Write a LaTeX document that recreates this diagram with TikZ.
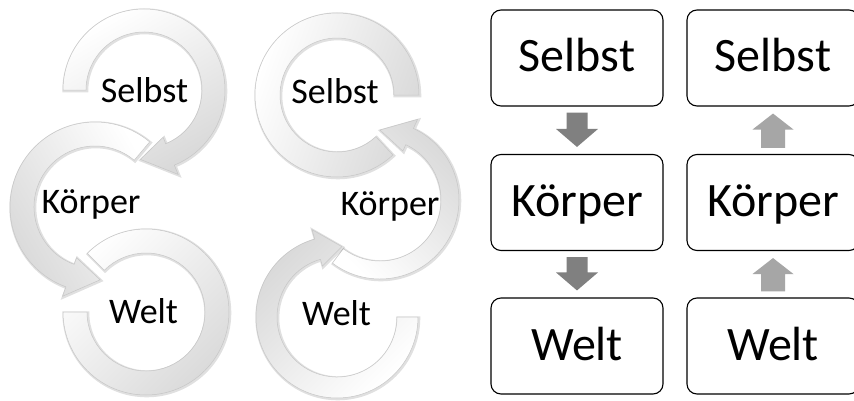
\documentclass[tikz,border=0pt]{standalone}
\usepackage{fontspec}
\setmainfont{Carlito}
\usetikzlibrary{calc}
\tikzset{
  ringfill/.style={preaction={draw=black,opacity=0.12,line width=3pt,transform canvas={xshift=0.8pt,yshift=-0.8pt}},
    top color=white,middle color=white,bottom color=gray!30,draw=gray!45,line width=0.5pt},
  ringtext/.style={anchor=base,font=\fontsize{36}{40}\selectfont,inner sep=0pt},
  stepbox/.style={draw=black,line width=1.1pt,rounded corners=10pt,fill=white,minimum width=172pt,minimum height=96pt,
    inner sep=0pt,text height=28pt,text depth=0pt,font=\fontsize{48}{52}\selectfont},
  darr/.style={fill=black!50},
  uarr/.style={fill=black!35},
}
% cx cy rin rout a1 a2 a3 shadeangle
\newcommand\ringhead[8]{%
  \pgfmathsetmacro\rmid{(#3+#4)/2}%
  \pgfmathsetmacro\rfo{#4+10}%
  \pgfmathsetmacro\rfi{#3-7}%
  \path[ringfill,shading angle=#8] ([shift={(#5:#4)}]#1,#2) arc[start angle=#5,end angle=#6,radius=#4pt]
    -- ([shift={(#6:\rfo)}]#1,#2) -- ([shift={(#7:\rmid)}]#1,#2) -- ([shift={(#6:\rfi)}]#1,#2)
    -- ([shift={(#6:#3)}]#1,#2) arc[start angle=#6,end angle=#5,radius=#3pt] -- cycle;}
% cx cy rin rout a1 a2 shadeangle
\newcommand\ringplain[7]{%
  \path[ringfill,shading angle=#7] ([shift={(#5:#4)}]#1,#2) arc[start angle=#5,end angle=#6,radius=#4pt]
    -- ([shift={(#6:#3)}]#1,#2) arc[start angle=#6,end angle=#5,radius=#3pt] -- cycle;}
\newcommand\downblk[2]{\fill[darr] ($(#1.south)+(-10.5,-6)$) -- ($(#1.south)+(10.5,-6)$) -- ($(#2.north)+(10.5,25)$)
  -- ($(#2.north)+(21,25)$) -- ($(#2.north)+(0,7)$) -- ($(#2.north)+(-21,25)$) -- ($(#2.north)+(-10.5,25)$) -- cycle;}
\newcommand\upblk[2]{\fill[uarr] ($(#1.north)+(-12,6)$) -- ($(#1.north)+(12,6)$) -- ($(#2.south)+(12,-23)$)
  -- ($(#2.south)+(20.5,-23)$) -- ($(#2.south)+(0,-7)$) -- ($(#2.south)+(-20.5,-23)$) -- ($(#2.south)+(-12,-23)$) -- cycle;}
\begin{document}
\begin{tikzpicture}[x=1pt,y=1pt]
\useasboundingbox (0,0) rectangle (854,400);
\fill[white] (0,0) rectangle (854,400);
% left cycle
\ringplain{146}{88}{59}{83}{135}{-180}{45}
\ringhead{95}{193}{61}{85}{50}{250}{274}{-60}
\ringhead{144}{310}{58}{81}{180}{-68}{-93}{30}
\node[ringtext] (lsel) at (144.5,298) {Selbst};
\node[ringtext] (lkor) at (91,187) {Körper};
\node[ringtext] (lwel) at (143.5,77) {Welt};
% middle cycle
\ringplain{337}{305}{57}{82}{0}{313}{70}
\ringhead{380}{200}{61}{79}{-127}{65}{90}{135}
\ringhead{337}{83}{60}{81}{0}{-254}{-274}{225}
\node[ringtext] (msel) at (335,297) {Selbst};
\node[ringtext] (mkor) at (390,185) {Körper};
\node[ringtext] (mwel) at (336.5,75) {Welt};
% boxes
\node[stepbox] (s1) at (577,342) {Selbst};
\node[stepbox] (k1) at (577,197.5) {Körper};
\node[stepbox] (w1) at (577,54) {Welt};
\node[stepbox] (s2) at (773,342) {Selbst};
\node[stepbox] (k2) at (773,197.5) {Körper};
\node[stepbox] (w2) at (773,54) {Welt};
\downblk{s1}{k1}
\downblk{k1}{w1}
\upblk{k2}{s2}
\upblk{w2}{k2}
\end{tikzpicture}
\end{document}
